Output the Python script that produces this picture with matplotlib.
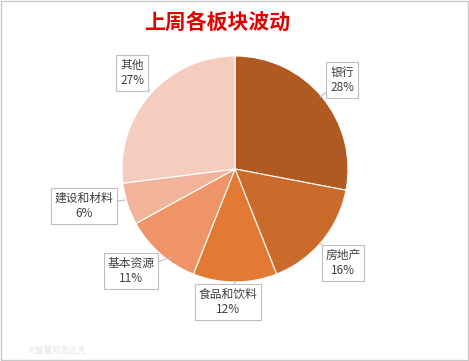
import matplotlib.pyplot as plt
from matplotlib.patches import Rectangle

plt.rcParams['font.family'] = ['Noto Sans CJK SC', 'DejaVu Sans']

# data
sectors = ["银行", "房地产", "食品和饮料", "基本资源", "建设和材料", "其他"]
shares = [28, 16, 12, 11, 6, 27]
colours = ["#B05A22", "#CA6A2B", "#E27A33", "#EE9467", "#F1B39A", "#F5CDBF"]

W, H = 469, 361
fig = plt.figure(figsize=(W / 100, H / 100), dpi=100)
ax = fig.add_axes([0, 0, 1, 1])

cx, cy, r = 235, H - 169, 113
wedges, _ = ax.pie(
    shares,
    colors=colours,
    startangle=90,
    counterclock=False,
    center=(cx, cy),
    radius=r,
    wedgeprops=dict(edgecolor="white", linewidth=0.8),
)
ax.set_xlim(0, W)
ax.set_ylim(0, H)
ax.set_aspect("equal")
ax.axis("off")

# label box centres (pixel coords from top) and arrow targets on the wedge
label_pos = [(342, 80), (343, 263), (228, 302), (131, 271), (84, 206), (132, 73)]
arrow_tip = [(320, 97), (320, 243), (235, 282), (172, 257), (125, 200), (150, 91)]

for name, val, (lx, ly), (tx, ty) in zip(sectors, shares, label_pos, arrow_tip):
    ax.annotate(
        f"{name}\n{val}%",
        xy=(tx, H - ty),
        xytext=(lx, H - ly),
        ha="center",
        va="center",
        fontsize=8.5,
        color="#404040",
        linespacing=1.2,
        bbox=dict(boxstyle="square,pad=0.3", fc="white", ec="#BFBFBF", lw=0.8),
        arrowprops=dict(arrowstyle="-", color="#BFBFBF", lw=0.8, shrinkA=0, shrinkB=0),
    )

fig.text(217 / W, 1 - 22 / H, "上周各板块波动", ha="center", va="center",
         fontsize=15, fontweight="bold", color="#E00000")

fig.text(28 / W, 1 - 350 / H, "大智慧阿思达克", ha="left", va="center",
         fontsize=6, color="#E4E4E4")

# outer border
fig.patches.append(Rectangle((0.002, 0.003), 0.996, 0.994, transform=fig.transFigure,
                             fill=False, ec="#C8C8C8", lw=1))

plt.savefig("out.png", dpi=100)
plt.close()
